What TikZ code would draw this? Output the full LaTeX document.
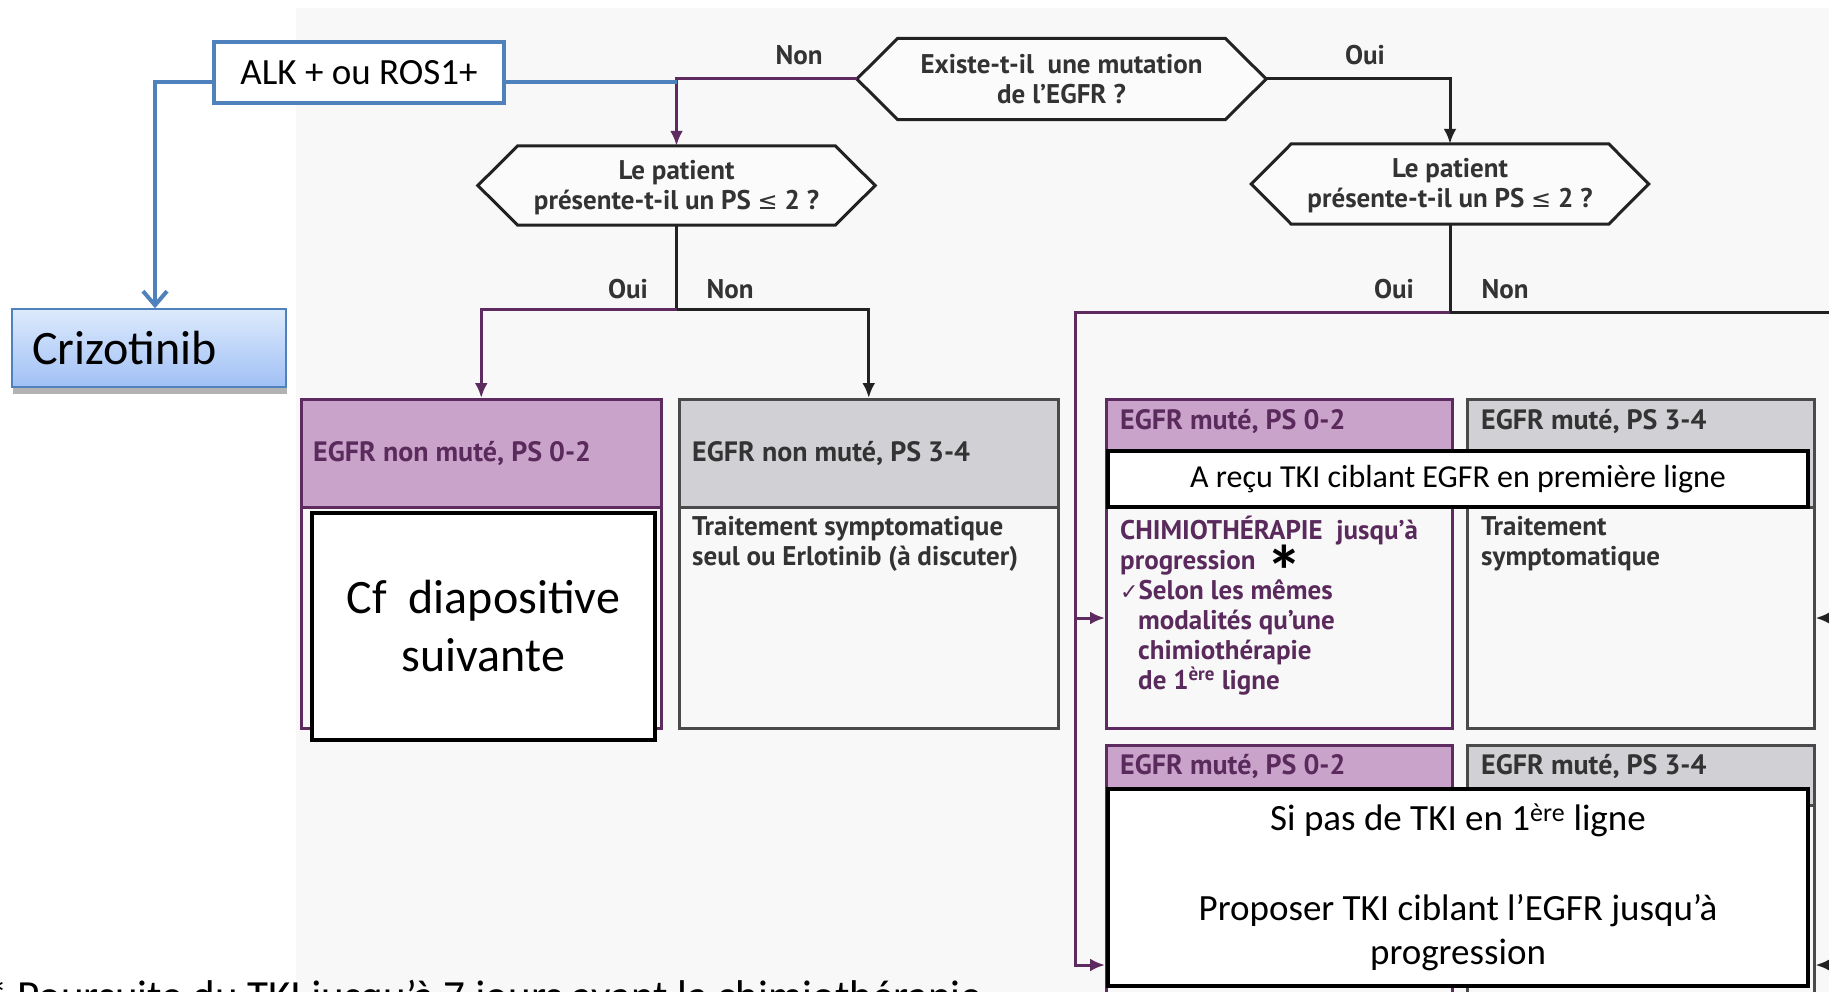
\documentclass[tikz,border=0pt]{standalone}
\usepackage{fontspec}
\setmainfont{PT Sans}
\newfontfamily\calib{Carlito}
\newfontfamily\dvs{DejaVu Sans}
\usetikzlibrary{arrows.meta,shadows,calc}
\definecolor{bgc}{HTML}{F8F8F8}
\definecolor{hexfill}{HTML}{FBFBFB}
\definecolor{purpfill}{HTML}{C9A3C9}
\definecolor{purpline}{HTML}{5E2B60}
\definecolor{purptxt}{HTML}{5A2A5C}
\definecolor{grayfill}{HTML}{D1D1D5}
\definecolor{grayline}{HTML}{4A4A4A}
\definecolor{graytxt}{HTML}{333333}
\definecolor{blk}{HTML}{222222}
\definecolor{bluel}{HTML}{4F81BD}
\definecolor{critop}{HTML}{DDEAFC}
\definecolor{cribot}{HTML}{A0C0F5}
\begin{document}
\begin{tikzpicture}[x=1pt,y=-1pt,
  flowfont/.style={font=\bfseries\fontsize{27}{30}\selectfont},
  headfont/.style={font=\bfseries\fontsize{28}{30}\selectfont},
  hexline/.style={draw=blk, line width=3pt, fill=hexfill},
  hexnode/.style={flowfont, align=center, inner sep=0pt, text=graytxt},
  lbl/.style={flowfont, text=graytxt, inner sep=0pt},
  plink/.style={draw=purpline, line width=3pt},
  klink/.style={draw=blk, line width=3pt},
  tip/.style={-{Latex[length=15pt,width=13pt]}},
  pbox/.style={draw=purpline, line width=2.5pt, fill=bgc, anchor=north west, inner sep=0pt},
  phead/.style={draw=purpline, line width=2.5pt, fill=purpfill, anchor=north west, inner sep=0pt},
  gbox/.style={draw=grayline, line width=2.5pt, fill=bgc, anchor=north west, inner sep=0pt},
  ghead/.style={draw=grayline, line width=2.5pt, fill=grayfill, anchor=north west, inner sep=0pt},
  ptxt/.style={headfont, text=purptxt, anchor=west, inner sep=0pt},
  gtxt/.style={headfont, text=graytxt, anchor=west, inner sep=0pt},
  pbody/.style={flowfont, text=purptxt, anchor=north west, align=left, inner sep=0pt},
  gbody/.style={flowfont, text=graytxt, anchor=north west, align=left, inner sep=0pt},
  ovl/.style={draw=black, line width=4pt, fill=white, align=center, inner sep=0pt},
  blueline/.style={draw=bluel, line width=4pt}
]
\useasboundingbox (0,0) rectangle (1829,992);
\clip (0,0) rectangle (1829,992);
\fill[white] (0,0) rectangle (1829,992);
\fill[bgc] (296,8) rectangle (1829,992);

% hexagons
\node[hexnode, minimum width=327, minimum height=81] (q1) at (1061.5,79) {Existe-t-il\ \ une mutation\\de l'EGFR ?};
\draw[hexline] (q1.north west) -- (q1.north east) -- ([xshift=41pt]q1.east) -- (q1.south east) -- (q1.south west) -- ([xshift=-41pt]q1.west) -- cycle;
\node[hexnode] at (q1) {Existe-t-il\ \ une mutation\\de l'EGFR ?};

\node[hexnode, minimum width=317, minimum height=79] (q2) at (676.5,185.5) {Le patient\\présente-t-il un PS {\dvs\mdseries\fontsize{24}{24}\selectfont ≤} 2 ?};
\draw[hexline] (q2.north west) -- (q2.north east) -- ([xshift=40pt]q2.east) -- (q2.south east) -- (q2.south west) -- ([xshift=-40pt]q2.west) -- cycle;
\node[hexnode] at ([yshift=-2pt]q2.center) {Le patient\\présente-t-il un PS {\dvs\mdseries\fontsize{24}{24}\selectfont ≤} 2 ?};

\node[hexnode, minimum width=317, minimum height=80] (q3) at (1450,184) {Le patient\\présente-t-il un PS {\dvs\mdseries\fontsize{24}{24}\selectfont ≤} 2 ?};
\draw[hexline] (q3.north west) -- (q3.north east) -- ([xshift=40pt]q3.east) -- (q3.south east) -- (q3.south west) -- ([xshift=-40pt]q3.west) -- cycle;
\node[hexnode] at ([yshift=-2pt]q3.center) {Le patient\\présente-t-il un PS {\dvs\mdseries\fontsize{24}{24}\selectfont ≤} 2 ?};

\coordinate (q1L) at ([xshift=-41pt]q1.west);
\coordinate (q1R) at ([xshift=41pt]q1.east);

% boxes left
\node[pbox, minimum width=360, minimum height=329] (lp) at (300,398) {};
\node[phead, minimum width=360, minimum height=108] (lph) at (300,398) {};
\node[ptxt] (lpt) at (313,453) {EGFR non muté, PS 0-2};

\node[gbox, minimum width=379, minimum height=329] (lg) at (678,398) {};
\node[ghead, minimum width=379, minimum height=108] (lgh) at (678,398) {};
\node[gtxt] (lgt) at (692,453) {EGFR non muté, PS 3-4};
\node[gbody] (lgb) at (692,516) {Traitement symptomatique\\seul ou Erlotinib (à discuter)};

% boxes right top
\node[pbox, minimum width=346, minimum height=329] (rp) at (1105,398) {};
\node[phead, minimum width=346, minimum height=108] (rph) at (1105,398) {};
\node[ptxt] (rpt) at (1120,421) {EGFR muté, PS 0-2};
\node[pbody] (rpb) at (1120,516) {CHIMIOTHÉRAPIE\ \ jusqu'à\\progression\\{\dvs\mdseries\fontsize{22}{22}\selectfont ✓}Selon les mêmes\\\hspace*{18pt}modalités qu'une\\\hspace*{18pt}chimiothérapie\\\hspace*{18pt}de 1\textsuperscript{ère} ligne};
\node[font=\calib\bfseries\fontsize{72}{72}\selectfont, inner sep=0pt] (ast) at (1284,571) {*};

\node[gbox, minimum width=347, minimum height=329] (rg) at (1466,398) {};
\node[ghead, minimum width=347, minimum height=108] (rgh) at (1466,398) {};
\node[gtxt] (rgt) at (1481,421) {EGFR muté, PS 3-4};
\node[gbody] (rgb) at (1481,516) {Traitement\\symptomatique};

% boxes right bottom
\node[pbox, minimum width=346, minimum height=300] (bp) at (1105,744) {};
\node[phead, minimum width=346, minimum height=60] (bph) at (1105,744) {};
\node[ptxt] (bpt) at (1120,766) {EGFR muté, PS 0-2};

\node[gbox, minimum width=347, minimum height=300] (bg) at (1466,744) {};
\node[ghead, minimum width=347, minimum height=60] (bgh) at (1466,744) {};
\node[gtxt] (bgt) at (1481,766) {EGFR muté, PS 3-4};

% connectors
\draw[plink, tip] (q1L) -| (q2.north);
\node[lbl] (lnon1) at (799,55) {Non};
\draw[klink, tip] (q1R) -| (q3.north);
\node[lbl] (loui1) at (1365,55) {Oui};

\coordinate (j2) at (676.5,310);
\draw[klink] (q2.south) -- (j2);
\draw[plink, tip] (j2) -| (lp.north);
\draw[klink, tip] (j2) -| (lg.north);
\node[lbl] (loui2) at (628,289) {Oui};
\node[lbl] (lnon2) at (730,289) {Non};

\coordinate (j3) at (1450,312.6);
\coordinate (redge) at (1840,312.6);
\coordinate (pv1) at (1075.5,618);
\coordinate (pv2) at (1075.5,965);
\coordinate (re1) at (1840,618);
\coordinate (re2) at (1840,965);
\draw[klink] (q3.south) -- (j3) -- (redge);
\draw[plink, tip] (j3) -| (pv2) -- (pv2 -| bp.west);
\draw[plink, tip] (pv1) -- (pv1 -| rp.west);
\draw[klink, tip] (re1) -- (re1 -| rg.east);
\draw[klink, tip] (re2) -- (re2 -| bg.east);
\node[lbl] (loui3) at (1394,289) {Oui};
\node[lbl] (lnon3) at (1505,289) {Non};

% ALK and Crizotinib
\node[draw=bluel, line width=4pt, fill=white, minimum width=290, minimum height=61, font=\calib\fontsize{37}{40}\selectfont, inner sep=0pt] (alk) at (359,72.5) {ALK + ou ROS1+};
\node[top color=critop, bottom color=cribot, draw=bluel, line width=1.5pt, drop shadow={shadow xshift=1pt, shadow yshift=-7pt, fill=black!30, opacity=1}, minimum width=274, minimum height=78, text width=234, inner xsep=20pt, align=left, font=\calib\fontsize{48}{50}\selectfont] (criz) at (149,348) {Crizotinib};
\coordinate (bjoin) at (676.5,82.5);
\draw[blueline] ([yshift=-10pt]alk.east) -- (bjoin);
\draw[blueline, -{Straight Barb[length=14pt,width=24pt,line width=4pt]}] ([yshift=-10pt]alk.west) -| ([xshift=6pt]criz.north);

% overlays
\node[ovl, minimum width=343, minimum height=227, font=\calib\fontsize{48}{58}\selectfont] (cf) at (483.5,626.5) {Cf\ \ diapositive\\suivante};
\node[ovl, minimum width=700, minimum height=56, font=\calib\fontsize{32}{36}\selectfont] (recu) at (1458,479) {A reçu TKI ciblant EGFR en première ligne};
\node[ovl, minimum width=700, minimum height=197, font=\calib\fontsize{37}{44}\selectfont] (sipas) at (1458,887.5) {Si pas de TKI en 1\textsuperscript{ère} ligne\\[46pt]Proposer TKI ciblant l’EGFR jusqu’à\\progression};

% footnote
\node[anchor=base west, inner sep=0pt, font=\calib\fontsize{43}{46}\selectfont] (foot) at (-14,1010) {* Poursuite du TKI jusqu’à 7 jours avant la chimiothérapie};
\end{tikzpicture}
\end{document}
